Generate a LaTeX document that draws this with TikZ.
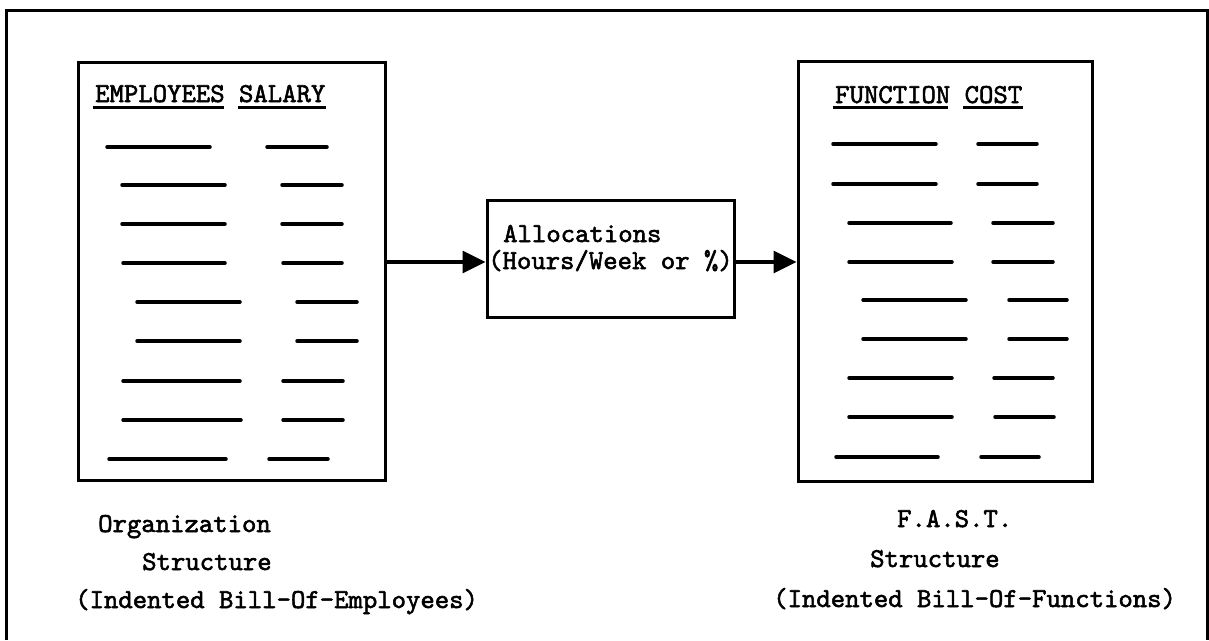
\documentclass[tikz,border=0pt]{standalone}
\usepackage{fontspec}
\usetikzlibrary{arrows.meta}
\newfontfamily\tw[FakeBold=2]{lmmono10-regular.otf}
\begin{document}
\begin{tikzpicture}[x=1pt,y=-1pt,
  txt/.style={anchor=base west,inner sep=0pt,font=\tw\fontsize{27.4}{30}\selectfont},
  boxstyle/.style={draw,line width=3pt,inner sep=0pt},
  dashline/.style={line width=3.5pt,line cap=round},
  uline/.style={line width=3pt},
  flow/.style={line width=3.5pt,-{Triangle[length=23pt,width=22pt]}}]
\useasboundingbox (0,0) rectangle (1209,640);
\fill[white] (0,0) rectangle (1209,640);
% outer frame
\draw[line width=3pt] (6,640) -- (6,10) -- (1207,10) -- (1207,640);
% boxes
\node[boxstyle,minimum width=307pt,minimum height=418pt] (emp) at (231.5,271) {};
\node[boxstyle,minimum width=247pt,minimum height=117pt] (alloc) at (610.5,258.5) {};
\node[boxstyle,minimum width=294pt,minimum height=420pt] (fun) at (945,271) {};
% headers
\node[txt] (h1) at (95,102) {EMPLOYEES SALARY};
\draw[uline] (93,107) -- (224,107);
\draw[uline] (238,107) -- (326,107);
\node[txt] (h2) at (835,103) {FUNCTION COST};
\draw[uline] (833,107) -- (948,107);
\draw[uline] (963,107) -- (1023,107);
% dashes left
\foreach \y/\a/\b/\c/\d in {147/107/210/267/327,185/122/225/282/342,224/122/225/282/342,263/123/225/283/342,302/137/240/297/357,341/137/240/297/357,381/123/240/283/343,420/123/241/283/343,459/109/226/269/328}{
  \draw[dashline] (\a,\y) -- (\b,\y);
  \draw[dashline] (\c,\y) -- (\d,\y);
}
% dashes right
\foreach \y/\a/\b/\c/\d in {144/833/936/978/1037,184/833/936/978/1037,223/849/951/993/1053,262/849/952/993/1053,300/863/966/1009/1067,339/863/966/1009/1067,378/849/952/994/1053,417/849/952/995/1054,457/836/938/981/1039}{
  \draw[dashline] (\a,\y) -- (\b,\y);
  \draw[dashline] (\c,\y) -- (\d,\y);
}
% middle text
\node[txt] (a1) at (503,242) {Allocations};
\node[txt] (a2) at (488,269) {(Hours/Week or \%)};
% arrows
\coordinate (ay) at (0,262);
\draw[flow] (emp.east |- ay) -- (alloc.west |- ay);
\draw[flow] (alloc.east |- ay) -- (fun.west |- ay);
% captions
\node[txt] (l1) at (98,532) {Organization};
\node[txt] (l2) at (142,570) {Structure};
\node[txt] (l3) at (75,608) {(Indented Bill-Of-Employees)};
\node[txt] (r1) at (897,527) {F.A.S.T.};
\node[txt] (r2) at (870,567) {Structure};
\node[txt] (r3) at (773,607) {(Indented Bill-Of-Functions)};
\end{tikzpicture}
\end{document}
